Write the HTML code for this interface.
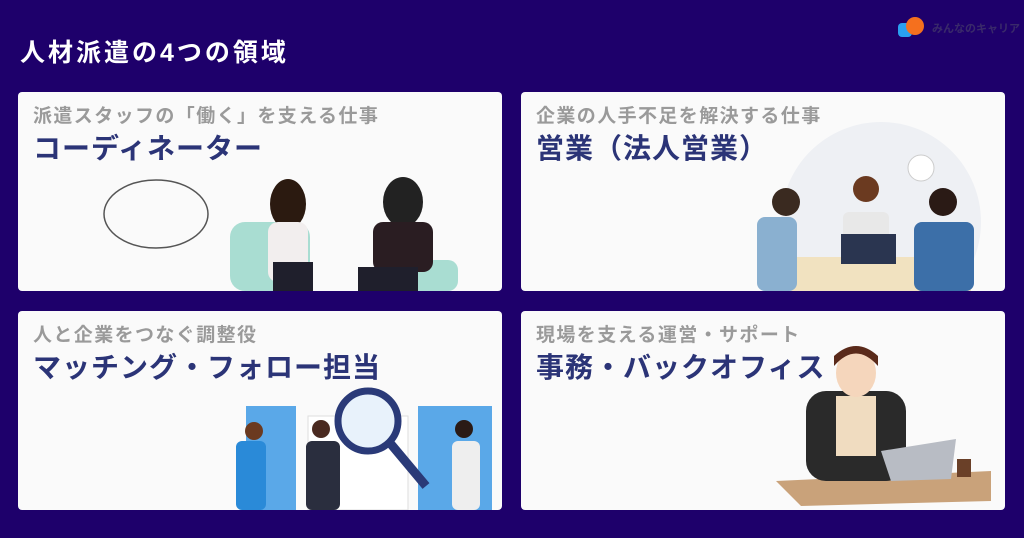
<!DOCTYPE html>
<html><head><meta charset="utf-8"><style>
body{margin:0;width:1024px;height:538px;background:#1e006b;font-family:"Liberation Sans","Noto Sans CJK JP",sans-serif;position:relative;overflow:hidden}
.t{position:absolute;left:20px;top:33px;color:#fff;font-size:25px;font-weight:bold;letter-spacing:3px;white-space:nowrap}
.logo{position:absolute;left:932px;top:20px;color:#3a2a6a;font-size:11px;font-weight:bold;white-space:nowrap}
.card{position:absolute;width:484px;height:199px;background:#fafafa;border-radius:4px;overflow:hidden}
.h{position:absolute;left:15px;top:9px;color:#9a9a9a;font-size:19px;font-weight:bold;letter-spacing:1.4px;white-space:nowrap}
.b{position:absolute;left:15px;top:35px;color:#2b3477;font-size:28px;font-weight:bold;letter-spacing:1px;white-space:nowrap}
svg{position:absolute;left:0;top:0}
</style></head><body>
<div class="t">人材派遣の4つの領域</div>
<svg width="40" height="40" style="left:896px;top:12px"><rect x="2" y="11" width="14" height="14" rx="4" fill="#2aa0f0"/><circle cx="19" cy="14" r="9" fill="#f5701e"/></svg>
<div class="logo">みんなのキャリア</div>

<div class="card" style="left:18px;top:92px">
<svg width="484" height="199">
<ellipse cx="138" cy="122" rx="52" ry="34" fill="none" stroke="#555" stroke-width="1.5"/>
<rect x="212" y="130" width="80" height="69" rx="15" fill="#a9ddd2"/>
<rect x="360" y="168" width="80" height="31" rx="10" fill="#a9ddd2"/>
<ellipse cx="270" cy="112" rx="18" ry="25" fill="#2b1a10"/>
<rect x="250" y="130" width="40" height="60" rx="10" fill="#f2eeee"/>
<rect x="255" y="170" width="40" height="29" fill="#1f1f2c"/>
<ellipse cx="385" cy="110" rx="20" ry="25" fill="#222"/>
<rect x="355" y="130" width="60" height="50" rx="10" fill="#2a1d22"/>
<rect x="340" y="175" width="60" height="24" fill="#1f1f2c"/>
</svg>
<div class="h">派遣スタッフの「働く」を支える仕事</div>
<div class="b">コーディネーター</div>
</div>

<div class="card" style="left:521px;top:92px">
<svg width="484" height="199">
<circle cx="360" cy="130" r="100" fill="#eef0f4"/>
<rect x="270" y="165" width="180" height="34" fill="#f1e2c0"/>
<rect x="236" y="125" width="40" height="74" rx="8" fill="#8ab0d0"/>
<circle cx="265" cy="110" r="14" fill="#3a2a20"/>
<rect x="322" y="120" width="46" height="50" rx="6" fill="#e8e8e8"/>
<circle cx="345" cy="97" r="13" fill="#6b3a20"/>
<rect x="320" y="142" width="55" height="30" fill="#2a3550"/>
<rect x="393" y="130" width="60" height="69" rx="8" fill="#3c6fa8"/>
<circle cx="422" cy="110" r="14" fill="#2a1a15"/>
<circle cx="400" cy="76" r="13" fill="#fff" stroke="#ccc"/>
</svg>
<div class="h">企業の人手不足を解決する仕事</div>
<div class="b">営業（法人営業）</div>
</div>

<div class="card" style="left:18px;top:311px">
<svg width="484" height="199">
<rect x="228" y="95" width="50" height="104" fill="#5aa8e8"/>
<rect x="400" y="95" width="74" height="104" fill="#5aa8e8"/>
<rect x="290" y="105" width="100" height="94" fill="#fff" stroke="#ddd"/>
<circle cx="350" cy="110" r="30" fill="#e8f2fb" stroke="#2a3a78" stroke-width="7"/>
<line x1="372" y1="132" x2="408" y2="175" stroke="#2a3a78" stroke-width="9"/>
<rect x="218" y="130" width="30" height="69" rx="6" fill="#2a8ad8"/>
<circle cx="236" cy="120" r="9" fill="#6b3a20"/>
<rect x="288" y="130" width="34" height="69" rx="6" fill="#2a2e3e"/>
<circle cx="303" cy="118" r="9" fill="#4a2a20"/>
<rect x="434" y="130" width="28" height="69" rx="6" fill="#eee"/>
<circle cx="446" cy="118" r="9" fill="#2a1a15"/>
</svg>
<div class="h">人と企業をつなぐ調整役</div>
<div class="b">マッチング・フォロー担当</div>
</div>

<div class="card" style="left:521px;top:311px">
<svg width="484" height="199">
<polygon points="255,170 470,160 470,190 280,195" fill="#c9a27a"/>
<rect x="285" y="80" width="100" height="90" rx="20" fill="#2a2a2a"/>
<rect x="315" y="85" width="40" height="60" fill="#f0dcc0"/>
<ellipse cx="335" cy="62" rx="20" ry="24" fill="#f5d6bc"/>
<path d="M313 55 Q335 30 357 55 L357 45 Q335 25 313 45Z" fill="#5a2a1a"/>
<polygon points="360,140 435,128 430,168 370,170" fill="#b8bcc4"/>
<rect x="436" y="148" width="14" height="18" fill="#6a4028"/>
</svg>
<div class="h">現場を支える運営・サポート</div>
<div class="b">事務・バックオフィス</div>
</div>
</body></html>
